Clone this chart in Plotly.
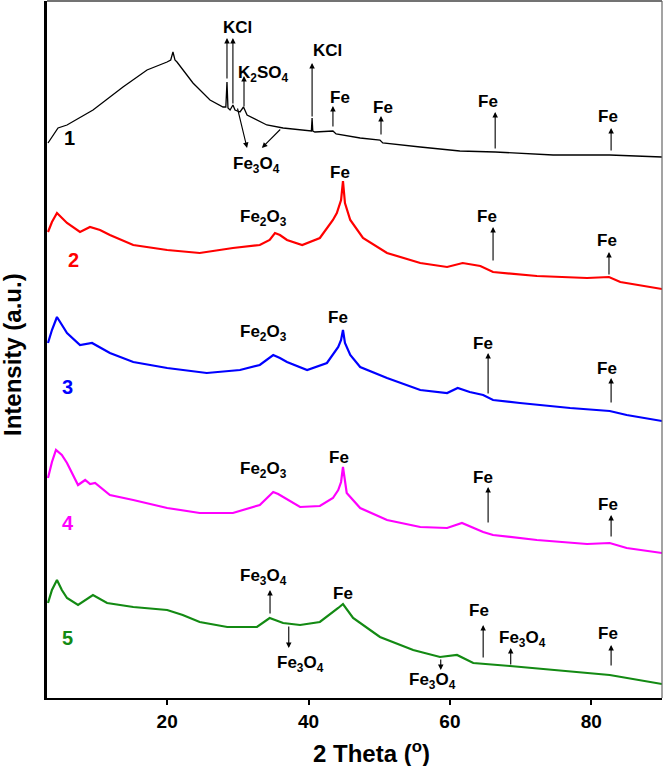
import plotly.graph_objects as go

# ---------------- data (2 theta in degrees, intensity in arbitrary units) ----------------
theta_1 = [3.14, 4.56, 5.83, 9.51, 13.75, 17.15, 19.98, 20.5, 20.82, 21.1, 21.39, 23.65, 26.06, 27.9,
           28.3, 28.46, 28.6, 28.9, 29.3, 29.6, 30.3, 30.8, 31.3, 34.1, 36.4, 40.2, 40.4, 40.5, 40.6,
           40.9, 43.45, 43.9, 47.3, 50.1, 50.5, 55.8, 61.4, 66.4, 74.6, 82.6, 90.0]
int_1 = [555, 570, 573, 588, 611, 628, 636, 638, 646, 638, 636, 615, 598, 591,
         591, 616, 590, 588, 593, 588, 586, 591, 583, 573, 570, 567, 567, 580, 567,
         566, 567, 564, 560, 558, 555, 551, 547, 546, 543, 543, 541]

theta_2 = [3.14, 3.7, 4.41, 5.1, 5.83, 7.67, 9.08, 10.5, 11.9, 15.2, 20.0, 24.6, 29.3, 33.1, 34.5,
           35.25, 35.95, 36.95, 39.1, 41.6, 43.45, 44.0, 44.6, 44.87, 45.15, 45.9, 47.7, 51.1, 55.8,
           59.6, 61.8, 64.3, 66.1, 72.3, 79.4, 82.5, 84.1, 90.0]
int_2 = [466, 476, 485, 480, 475, 466, 471, 468, 463, 453, 448, 445, 450, 453, 458,
         465, 463, 458, 453, 460, 478, 485, 498, 517, 495, 478, 460, 445, 435,
         431, 435, 432, 426, 422, 420, 421, 416, 409]

theta_3 = [3.14, 3.7, 4.41, 5.1, 5.83, 7.67, 9.37, 11.9, 15.2, 20.0, 25.6, 30.3, 33.1, 35.0, 35.95,
           36.95, 39.8, 42.6, 44.2, 44.6, 44.87, 45.15, 45.9, 47.3, 51.1, 55.8, 59.6, 61.1, 62.8,
           64.7, 66.1, 69.9, 77.0, 82.6, 85.0, 90.0]
int_3 = [355, 368, 381, 373, 365, 353, 355, 345, 336, 330, 325, 328, 333, 343, 340,
         336, 328, 335, 351, 358, 368, 355, 343, 331, 320, 308, 305, 310, 306,
         303, 298, 295, 290, 287, 283, 277]

theta_4 = [3.14, 3.7, 4.27, 5.1, 5.83, 7.39, 8.4, 9.1, 9.8, 11.9, 15.2, 20.0, 24.6, 29.3, 33.1,
           35.0, 35.7, 36.4, 38.8, 41.6, 43.45, 44.2, 44.6, 44.87, 45.15, 45.4, 47.3, 51.1, 55.8,
           59.6, 61.7, 64.7, 66.1, 72.3, 79.4, 82.6, 85.0, 90.0]
int_4 = [220, 236, 248, 243, 235, 213, 218, 214, 215, 203, 198, 190, 185, 185, 193,
         206, 204, 201, 191, 192, 200, 208, 216, 231, 215, 205, 190, 178, 171,
         170, 175, 166, 163, 158, 154, 155, 150, 145]

theta_5 = [3.14, 3.7, 4.41, 5.1, 5.83, 7.39, 9.5, 11.5, 15.2, 20.0, 22.2, 24.6, 28.5, 32.7, 34.5,
           36.4, 38.8, 41.6, 44.2, 44.87, 46.3, 50.1, 54.8, 58.6, 61.0, 63.3, 68.5, 74.6, 82.6, 90.0]
int_5 = [95, 108, 118, 108, 100, 93, 103, 95, 91, 88, 83, 76, 71, 71, 80,
         75, 73, 76, 90, 94, 80, 61, 48, 41, 43, 35, 32, 28, 23, 14]

sample_names = ["1", "2", "3", "4", "5"]
x_tickvals = [20, 40, 60, 80]

# phase labels: text, x, y
phase_text = ["KCl", "K<sub>2</sub>SO<sub>4</sub>", "KCl", "Fe", "Fe", "Fe", "Fe", "Fe<sub>3</sub>O<sub>4</sub>",
              "Fe<sub>2</sub>O<sub>3</sub>", "Fe", "Fe", "Fe",
              "Fe<sub>2</sub>O<sub>3</sub>", "Fe", "Fe", "Fe",
              "Fe<sub>2</sub>O<sub>3</sub>", "Fe", "Fe", "Fe",
              "Fe<sub>3</sub>O<sub>4</sub>", "Fe<sub>3</sub>O<sub>4</sub>", "Fe", "Fe<sub>3</sub>O<sub>4</sub>",
              "Fe", "Fe<sub>3</sub>O<sub>4</sub>", "Fe"]
phase_x = [30.0, 33.6, 42.7, 44.45, 50.5, 65.4, 82.4, 32.7,
           33.6, 44.45, 65.2, 82.2,
           33.6, 44.2, 64.7, 82.2,
           33.6, 44.3, 64.7, 82.4,
           33.6, 38.8, 44.87, 57.6, 64.1, 70.2, 82.4]
phase_y = [671, 624, 648, 601, 591, 597, 582, 533,
           480, 526, 482, 458,
           365, 381, 355, 330,
           228, 241, 221, 194,
           121, 34, 105, 17, 88, 59, 65]

# arrows: tail (x, y) -> head (x, y)
arrow_tail_x = [28.46, 29.3, 30.87, 40.5, 43.45, 50.25, 66.4, 82.8, 29.9, 36.2,
                66.1, 82.5, 65.4, 82.8, 65.4, 82.8,
                34.55, 37.2, 58.7, 64.7, 68.6, 82.8]
arrow_tail_y = [618, 593, 590, 580, 570, 562, 548, 546, 591, 570,
                436, 422, 303, 294, 174, 160,
                83, 73, 40, 39, 32, 31]
arrow_head_x = [28.46, 29.3, 30.87, 40.5, 43.45, 50.25, 66.4, 82.8, 31.3, 33.4,
                66.1, 82.5, 65.4, 82.8, 65.4, 82.8,
                34.55, 37.2, 58.7, 64.7, 68.6, 82.8]
arrow_head_y = [660, 660, 622, 635, 592, 582, 586, 570, 550, 550,
                471, 446, 345, 320, 211, 183,
                108, 50, 28, 73, 50, 53]

num_x = [6.25, 6.7, 5.97, 5.97, 5.97]
num_y = [560, 438, 311, 175, 60]

# ---------------- figure ----------------
colors = ["#000000", "#FF0000", "#0000FF", "#FF00FF", "#138A13"]
widths = [1.3, 2.2, 2.2, 2.2, 2.2]
thetas = [theta_1, theta_2, theta_3, theta_4, theta_5]
ints = [int_1, int_2, int_3, int_4, int_5]

FONT = "Liberation Sans, Arial, sans-serif"

fig = go.Figure()
for i in range(5):
    fig.add_trace(go.Scatter(x=thetas[i], y=ints[i], mode="lines",
                             line=dict(color=colors[i], width=widths[i]),
                             name=sample_names[i], showlegend=False, hoverinfo="skip"))

annotations = []
for t, x, y in zip(phase_text, phase_x, phase_y):
    annotations.append(dict(x=x, y=y, xref="x", yref="y", text=t, showarrow=False,
                            font=dict(family=FONT, size=17, color="black", weight="bold"),
                            xanchor="center", yanchor="middle"))
for tx, ty, hx, hy in zip(arrow_tail_x, arrow_tail_y, arrow_head_x, arrow_head_y):
    annotations.append(dict(x=hx, y=hy, ax=tx, ay=ty, xref="x", yref="y", axref="x", ayref="y",
                            text="", showarrow=True, arrowhead=2, arrowsize=1.0, arrowwidth=1.1,
                            arrowcolor="black", standoff=0, startstandoff=0))
for n, x, y, c in zip(sample_names, num_x, num_y, colors):
    annotations.append(dict(x=x, y=y, xref="x", yref="y", text=n, showarrow=False,
                            font=dict(family=FONT, size=20, color=c, weight="bold"),
                            xanchor="center", yanchor="middle"))

# axis titles
annotations.append(dict(x=(371 - 47) / 615, y=(698 - 752) / 697, xref="paper", yref="paper",
                        text="2 Theta (<sup>o</sup>)", showarrow=False,
                        font=dict(family=FONT, size=24, color="black", weight="bold"),
                        xanchor="center", yanchor="middle"))
annotations.append(dict(x=(13 - 47) / 615, y=(698 - 355) / 697, xref="paper", yref="paper",
                        text="Intensity (a.u.)", showarrow=False, textangle=-90,
                        font=dict(family=FONT, size=24, color="black", weight="bold"),
                        xanchor="center", yanchor="middle"))

fig.update_layout(
    width=664, height=766,
    margin=dict(l=47, r=2, t=1, b=68),
    paper_bgcolor="white", plot_bgcolor="white",
    annotations=annotations,
    shapes=[
        dict(type="line", xref="paper", yref="paper", x0=0, x1=1, y0=1, y1=1,
             line=dict(color="#444444", width=1.5)),
        dict(type="line", xref="paper", yref="paper", x0=1, x1=1, y0=0, y1=1,
             line=dict(color="#666666", width=1.2)),
    ],
    xaxis=dict(range=[3, 90], tickvals=x_tickvals, ticks="outside", ticklen=5, tickwidth=1.5,
               tickcolor="black", showline=True, linewidth=2, linecolor="black",
               showgrid=False, zeroline=False,
               tickfont=dict(family=FONT, size=19, color="black", weight="bold")),
    yaxis=dict(range=[0, 697], showticklabels=False, ticks="", showline=True, linewidth=2.5,
               linecolor="black", showgrid=False, zeroline=False),
)

fig.write_html("out.html", config={"displayModeBar": False},
               post_script="document.body.style.margin='0';document.body.style.overflow='hidden';")
